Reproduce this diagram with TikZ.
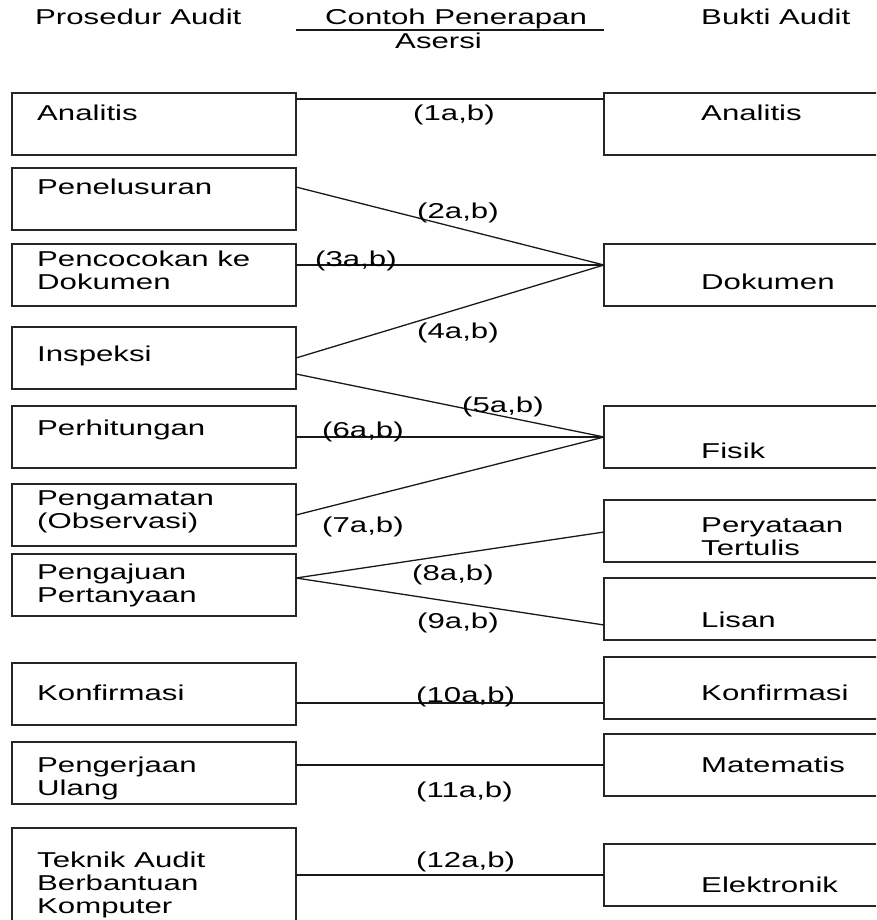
\documentclass[tikz,border=0pt]{standalone}
\usepackage{fontspec}
\setmainfont{Liberation Sans}[FakeStretch=1.45]
\usetikzlibrary{calc}
\newcommand\mlines[1]{\begin{tabular}[t]{@{}l@{}}#1\end{tabular}}
\begin{document}
\begin{tikzpicture}[x=1pt,y=-1pt,
  box/.style={draw=black!85, line width=1.4pt, rectangle, inner sep=0pt, outer sep=0pt, anchor=north west},
  lbox/.style={box, minimum width=284pt, minimum height=62pt},
  rbox/.style={box, minimum width=300pt, minimum height=62pt},
  txt/.style={anchor=base west, inner sep=0pt, font=\fontsize{21.5}{23}\selectfont},
  conn/.style={line width=1.3pt, draw=black!90}]
\useasboundingbox (0,0) rectangle (876,920);
\clip (0,0) rectangle (876,920);
% headers
\node[txt] (h1) at (35,25) {Prosedur Audit};
\node[txt] (h2) at (325,25) {Contoh Penerapan};
\node[txt] (h3) at (395,49) {Asersi};
\node[txt] (h4) at (701,25) {Bukti Audit};
\coordinate (u1) at (296,30);
\coordinate (u2) at (604,30);
\draw[conn] (u1) -- (u2);
% left boxes
\node[lbox] (L1) at (12,93) {};
\node[lbox] (L2) at (12,168) {};
\node[lbox] (L3) at (12,244) {};
\node[lbox] (L4) at (12,327) {};
\node[lbox] (L5) at (12,406) {};
\node[lbox] (L6) at (12,484) {};
\node[lbox] (L7) at (12,554) {};
\node[lbox] (L8) at (12,663) {};
\node[lbox] (L9) at (12,742) {};
\node[lbox, minimum height=110pt] (L10) at (12,828) {};
% right boxes
\node[rbox] (R1) at (604,93) {};
\node[rbox] (R2) at (604,244) {};
\node[rbox] (R3) at (604,406) {};
\node[rbox] (R4) at (604,500) {};
\node[rbox] (R5) at (604,578) {};
\node[rbox] (R6) at (604,657) {};
\node[rbox] (R7) at (604,734) {};
\node[rbox] (R8) at (604,844) {};
% left texts
\node[txt] (tL1) at (37,121) {Analitis};
\node[txt] (tL2) at (37,194) {Penelusuran};
\node[txt] (tL3) at (37,266) {\mlines{Pencocokan ke\\Dokumen}};
\node[txt] (tL4) at (37,361) {Inspeksi};
\node[txt] (tL5) at (37,435) {Perhitungan};
\node[txt] (tL6) at (37,505) {\mlines{Pengamatan\\(Observasi)}};
\node[txt] (tL7) at (37,579) {\mlines{Pengajuan\\Pertanyaan}};
\node[txt] (tL8) at (37,700) {Konfirmasi};
\node[txt] (tL9) at (37,772) {\mlines{Pengerjaan\\Ulang}};
\node[txt] (tL10) at (37,867) {\mlines{Teknik Audit\\Berbantuan\\Komputer}};
% right texts
\node[txt] (tR1) at (701,121) {Analitis};
\node[txt] (tR2) at (701,289) {Dokumen};
\node[txt] (tR3) at (701,458) {Fisik};
\node[txt] (tR4) at (701,532) {\mlines{Peryataan\\Tertulis}};
\node[txt] (tR5) at (701,627) {Lisan};
\node[txt] (tR6) at (701,700) {Konfirmasi};
\node[txt] (tR7) at (701,772) {Matematis};
\node[txt] (tR8) at (701,892) {Elektronik};
% connection points
\coordinate (a1) at ($(L1.north east)+(0,6)$);
\coordinate (b1) at ($(R1.north west)+(0,6)$);
\coordinate (a2) at ($(L2.north east)+(0,19)$);
\coordinate (a3) at ($(L3.north east)+(0,21)$);
\coordinate (a4) at ($(L4.north east)+(0,31)$);
\coordinate (bD) at ($(R2.north west)+(0,21)$);
\coordinate (a5) at ($(L4.north east)+(0,47)$);
\coordinate (a6) at ($(L5.north east)+(0,31)$);
\coordinate (a7) at ($(L6.north east)+(0,31)$);
\coordinate (bF) at ($(R3.north west)+(0,31)$);
\coordinate (a8) at ($(L7.north east)+(0,24)$);
\coordinate (b8) at ($(R4.north west)+(0,32)$);
\coordinate (b9) at ($(R5.north west)+(0,47)$);
\coordinate (a10) at ($(L8.north east)+(0,40)$);
\coordinate (b10) at ($(R6.north west)+(0,46)$);
\coordinate (a11) at ($(L9.north east)+(0,23)$);
\coordinate (b11) at ($(R7.north west)+(0,31)$);
\coordinate (a12) at ($(L10.north east)+(0,47)$);
\coordinate (b12) at ($(R8.north west)+(0,31)$);
% connectors
\draw[conn] (a1) -- (b1);
\draw[conn] (a2) -- (bD);
\draw[conn] (a3) -- (bD);
\draw[conn] (a4) -- (bD);
\draw[conn] (a5) -- (bF);
\draw[conn] (a6) -- (bF);
\draw[conn] (a7) -- (bF);
\draw[conn] (a8) -- (b8);
\draw[conn] (a8) -- (b9);
\draw[conn] (a10) -- (b10);
\draw[conn] (a11) -- (b11);
\draw[conn] (a12) -- (b12);
% labels
\node[txt] (c1) at (413,121) {(1a,b)};
\node[txt] (c2) at (417,218) {(2a,b)};
\node[txt] (c3) at (315,266) {(3a,b)};
\node[txt] (c4) at (417,338) {(4a,b)};
\node[txt] (c5) at (462,412) {(5a,b)};
\node[txt] (c6) at (322,437) {(6a,b)};
\node[txt] (c7) at (322,532) {(7a,b)};
\node[txt] (c8) at (412,580) {(8a,b)};
\node[txt] (c9) at (417,628) {(9a,b)};
\node[txt] (c10) at (416,702) {(10a,b)};
\node[txt] (c11) at (416,797) {(11a,b)};
\node[txt] (c12) at (416,867) {(12a,b)};
\end{tikzpicture}
\end{document}
